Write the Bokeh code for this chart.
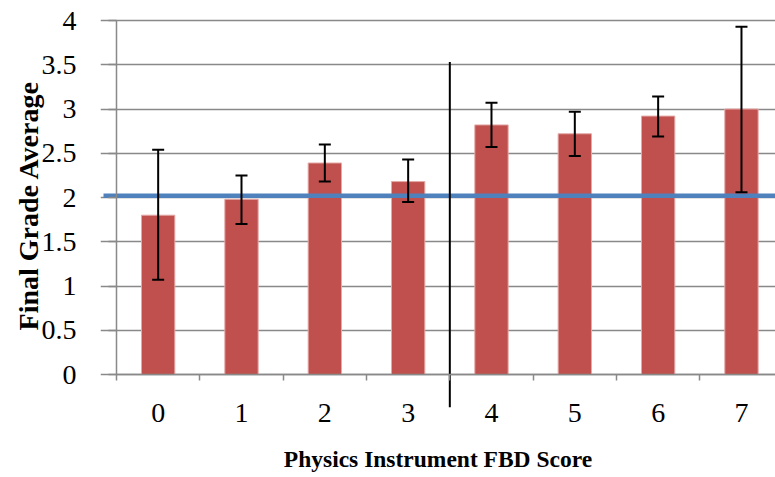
from bokeh.plotting import figure
from bokeh.models import (Range1d, LinearAxis, FixedTicker, Grid, Whisker,
                          TeeHead, ColumnDataSource)
from bokeh.embed import file_html
from bokeh.resources import INLINE

# ---- data ----
scores = [0, 1, 2, 3, 4, 5, 6, 7]
x_tick_labels = ["0", "1", "2", "3", "4", "5", "6", "7"]
grade_avg = [1.80, 1.98, 2.39, 2.18, 2.82, 2.72, 2.92, 3.00]
err_upper = [2.54, 2.25, 2.60, 2.43, 3.07, 2.97, 3.14, 3.93]
err_lower = [1.07, 1.70, 2.18, 1.95, 2.57, 2.47, 2.69, 2.06]
y_ticks = [0, 0.5, 1, 1.5, 2, 2.5, 3, 3.5, 4]
y_tick_labels = ["0", "0.5", "1", "1.5", "2", "2.5", "3", "3.5", "4"]
overall_avg = 2.02          # blue reference line
divider_score = 3.5         # vertical divider between score 3 and 4
divider_low, divider_high = -0.37, 3.53

# ---- layout (pixel geometry of the reference) ----
W, H = 775, 477
LEFT = 100                 # left panel (tick labels + title)
BOTTOM = 67                # bottom panel (tick labels + title)
px_per_x = 83.33
px_per_y = 88.5
axis_left_px = 116
axis_zero_px = 374
x0 = -0.5 - (axis_left_px - LEFT) / px_per_x
x1 = x0 + (W - LEFT) / px_per_x
y1 = axis_zero_px / px_per_y
y0 = y1 - (H - BOTTOM) / px_per_y

FONT = "Liberation Serif"
GRAY = "#898989"

p = figure(width=W, height=H, output_backend="svg", toolbar_location=None,
           x_range=Range1d(x0, x1), y_range=Range1d(y0, y1),
           x_axis_location=None, y_axis_location=None,
           min_border=0, min_border_left=LEFT, min_border_bottom=BOTTOM,
           outline_line_color=None)
p.xgrid.visible = False
p.ygrid.visible = False
p.background_fill_color = "white"
p.border_fill_color = "white"

yticker = FixedTicker(ticks=y_ticks)
p.add_layout(Grid(dimension=1, ticker=yticker, bounds=(-0.5, 7.5),
                  grid_line_color=GRAY, grid_line_width=1.5))

src = ColumnDataSource(dict(x=scores, top=grade_avg, upper=err_upper, lower=err_lower))
p.vbar(x="x", top="top", width=0.4, source=src, fill_color="#C0504D",
       line_color="#E3A9A8", line_width=1)

# blue average line (starts just left of the y axis, as in the reference)
p.line(x=[-0.5 - 13 / px_per_x, x1], y=[overall_avg, overall_avg],
       line_color="#4F81BD", line_width=4.5)

whisk = Whisker(base="x", upper="upper", lower="lower", source=src,
                line_color="black", line_width=2, level="annotation",
                upper_head=TeeHead(size=12, line_width=2, line_color="black"),
                lower_head=TeeHead(size=12, line_width=2, line_color="black"))
p.add_layout(whisk)

p.segment(x0=[divider_score], y0=[divider_low], x1=[divider_score], y1=[divider_high],
          line_color="black", line_width=2)

# y axis: tick labels + title in the left panel
ylab_axis = LinearAxis(bounds=(0, 4), ticker=yticker,
                       axis_label="Final Grade Average",
                       axis_label_text_font=FONT, axis_label_text_font_style="bold",
                       axis_label_text_font_size="28px", axis_label_text_color="black",
                       axis_label_standoff=-5,
                       major_label_text_font=FONT, major_label_text_font_size="28px",
                       major_label_text_color="black", major_label_standoff=24,
                       major_tick_out=0, major_tick_in=0, minor_tick_out=0,
                       axis_line_color=None, major_tick_line_color=None,
                       minor_tick_line_color=None)
ylab_axis.major_label_overrides = {t: l for t, l in zip(y_ticks, y_tick_labels)}
p.add_layout(ylab_axis, "left")

# y axis line and ticks, drawn at score -0.5 (ticks point left)
yline_axis = LinearAxis(fixed_location=-0.5, bounds=(0, 4), ticker=yticker,
                        major_label_text_font_size="0px", major_label_standoff=0,
                        major_tick_out=0, major_tick_in=8, minor_tick_out=0, minor_tick_in=0,
                        axis_line_color=GRAY, axis_line_width=1.5,
                        major_tick_line_color=GRAY, major_tick_line_width=1.5)
yline_axis.major_label_overrides = {t: "" for t in y_ticks}
p.add_layout(yline_axis, "right")

# x axis: tick labels + title in the bottom panel
xticker = FixedTicker(ticks=scores, minor_ticks=[s - 0.5 for s in scores] + [scores[-1] + 0.5])
xlab_axis = LinearAxis(bounds=(-0.5, 7.5), ticker=xticker,
                       axis_label="Physics Instrument FBD Score",
                       axis_label_text_font=FONT, axis_label_text_font_style="bold",
                       axis_label_text_font_size="23.5px", axis_label_text_color="black",
                       axis_label_standoff=21,
                       major_label_text_font=FONT, major_label_text_font_size="28px",
                       major_label_text_color="black", major_label_standoff=-7,
                       major_tick_out=0, major_tick_in=0, minor_tick_out=0, minor_tick_in=0,
                       axis_line_color=None, major_tick_line_color=None,
                       minor_tick_line_color=None)
xlab_axis.major_label_overrides = {t: l for t, l in zip(scores, x_tick_labels)}
p.add_layout(xlab_axis, "below")

# x axis line and ticks at grade 0 (ticks point down)
xline_axis = LinearAxis(fixed_location=0, bounds=(-0.5, 7.5), ticker=xticker,
                        major_label_text_font_size="0px", major_label_standoff=0,
                        major_tick_out=0, major_tick_in=0,
                        minor_tick_out=0, minor_tick_in=6,
                        axis_line_color=GRAY, axis_line_width=1.5,
                        minor_tick_line_color=GRAY, minor_tick_line_width=1.5)
xline_axis.major_label_overrides = {t: "" for t in scores}
p.add_layout(xline_axis, "above")

open("out.html", "w").write(file_html(p, INLINE))
